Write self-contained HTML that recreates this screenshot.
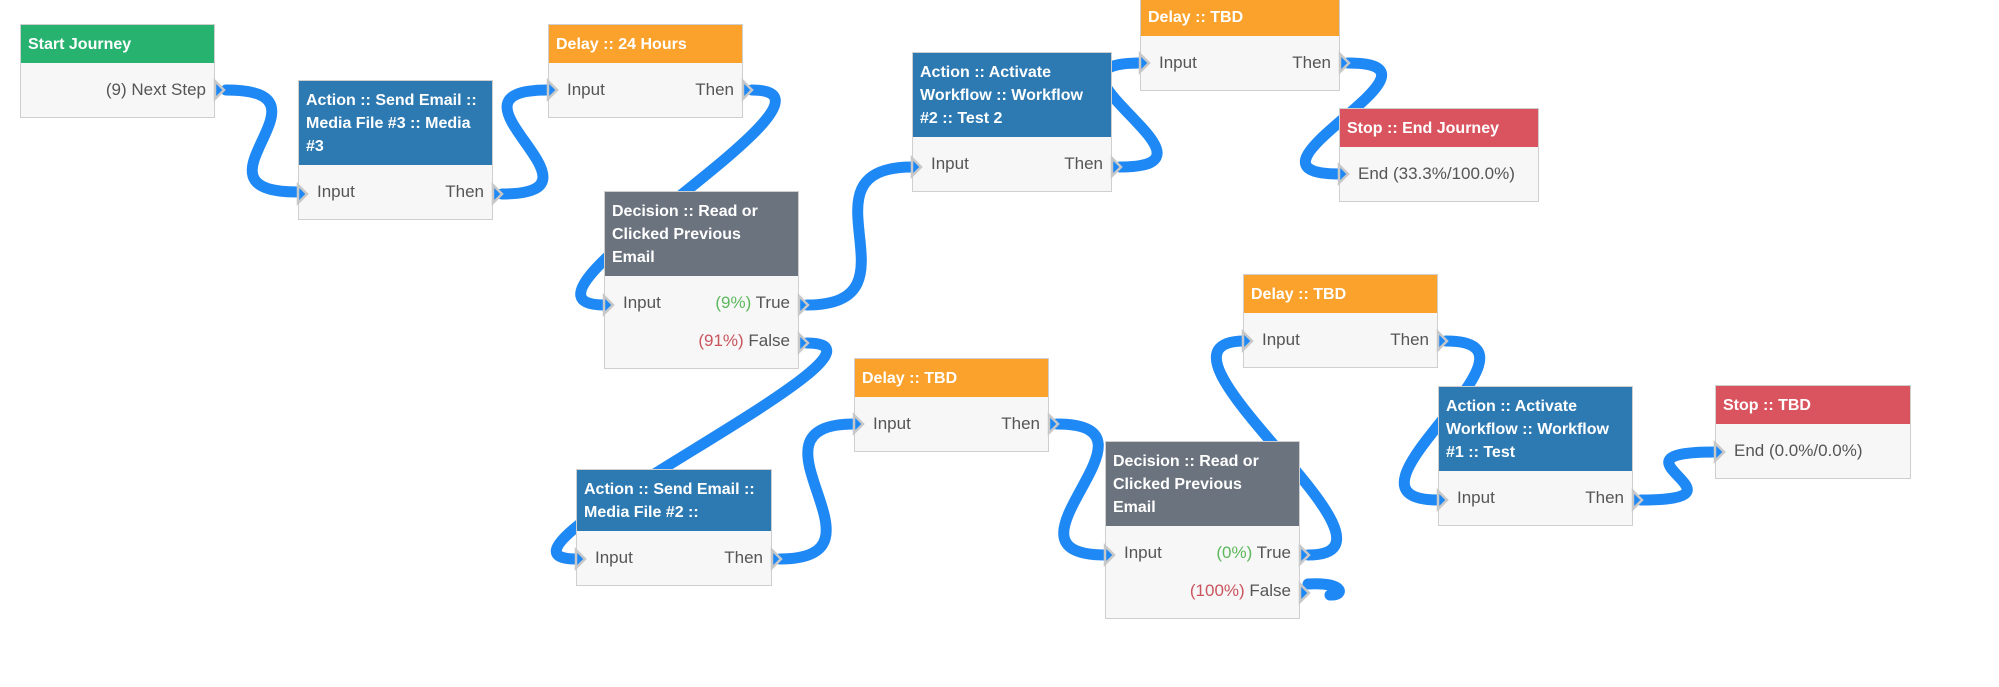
<!DOCTYPE html>
<html><head><meta charset="utf-8"><style>
html,body{margin:0;padding:0;background:#fff;width:1999px;height:687px;overflow:hidden;position:relative;font-family:"Liberation Sans",sans-serif}
.n{position:absolute;width:195px;background:#f7f7f7;border:1px solid #cfcfcf;box-sizing:border-box}
.h{color:#fff;font-weight:bold;font-size:16px;line-height:23px;padding:8px 7px 7px 7px;white-space:nowrap;overflow:hidden}
.b{padding:8px 0}
.r{display:flex;justify-content:space-between;height:38px;line-height:38px;font-size:17px;color:#555;padding:0 8px 0 18px;white-space:nowrap}
.g{background:#27b36f}.o{background:#fba22d}.bl{background:#2d7ab3}.gr{background:#6b737e}.rd{background:#d9545e}
.t{color:#5cb85c}.f{color:#c9545e}
svg{position:absolute;left:0;top:0}
</style></head><body>
<svg width="1999" height="687" style="z-index:0">
<g fill="none" stroke="#1e88f5" stroke-width="11" stroke-linecap="round">
<path d="M226,90 C346,90 178,192 298,192"/>
<path d="M502,194 C622,194 428,90 548,90"/>
<path d="M752,90 C872,90 484,305 604,305"/>
<path d="M807,305 C927,305 792,167 912,167"/>
<path d="M807,343 C927,343 456,559 576,559"/>
<path d="M1120,167 C1240,167 1020,63 1140,63"/>
<path d="M1348,63 C1468,63 1219,174 1339,174"/>
<path d="M780,559 C900,559 734,424 854,424"/>
<path d="M1057,424 C1177,424 985,555 1105,555"/>
<path d="M1308,555 C1428,555 1125,341 1245,341"/>
<path d="M1446,341 C1566,341 1318,500 1438,500"/>
<path d="M1641,500 C1761,500 1595,452 1715,452"/>
<path d="M1308,584 C1345,582 1345,596 1330,595"/>
</g>
</svg>

<div class="n" style="left:20px;top:24px"><div class="h g">Start Journey</div><div class="b"><div class="r"><span></span><span>(9) Next Step</span></div></div></div>

<div class="n" style="left:298px;top:80px"><div class="h bl">Action :: Send Email ::<br>Media File #3 :: Media<br>#3</div><div class="b"><div class="r"><span>Input</span><span>Then</span></div></div></div>

<div class="n" style="left:548px;top:24px"><div class="h o">Delay :: 24 Hours</div><div class="b"><div class="r"><span>Input</span><span>Then</span></div></div></div>

<div class="n" style="left:604px;top:191px"><div class="h gr">Decision :: Read or<br>Clicked Previous<br>Email</div><div class="b"><div class="r"><span>Input</span><span><span class="t">(9%)</span> True</span></div><div class="r"><span></span><span><span class="f">(91%)</span> False</span></div></div></div>

<div class="n" style="left:912px;top:52px;width:200px"><div class="h bl">Action :: Activate<br>Workflow :: Workflow<br>#2 :: Test 2</div><div class="b"><div class="r"><span>Input</span><span>Then</span></div></div></div>

<div class="n" style="left:1140px;top:-3px;width:200px"><div class="h o">Delay :: TBD</div><div class="b"><div class="r"><span>Input</span><span>Then</span></div></div></div>

<div class="n" style="left:1339px;top:108px;width:200px"><div class="h rd">Stop :: End Journey</div><div class="b"><div class="r"><span>End (33.3%/100.0%)</span><span></span></div></div></div>

<div class="n" style="left:576px;top:469px;width:196px"><div class="h bl">Action :: Send Email ::<br>Media File #2 ::</div><div class="b"><div class="r"><span>Input</span><span>Then</span></div></div></div>

<div class="n" style="left:854px;top:358px"><div class="h o">Delay :: TBD</div><div class="b"><div class="r"><span>Input</span><span>Then</span></div></div></div>

<div class="n" style="left:1105px;top:441px"><div class="h gr">Decision :: Read or<br>Clicked Previous<br>Email</div><div class="b"><div class="r"><span>Input</span><span><span class="t">(0%)</span> True</span></div><div class="r"><span></span><span><span class="f">(100%)</span> False</span></div></div></div>

<div class="n" style="left:1243px;top:274px"><div class="h o">Delay :: TBD</div><div class="b"><div class="r"><span>Input</span><span>Then</span></div></div></div>

<div class="n" style="left:1438px;top:386px"><div class="h bl">Action :: Activate<br>Workflow :: Workflow<br>#1 :: Test</div><div class="b"><div class="r"><span>Input</span><span>Then</span></div></div></div>

<div class="n" style="left:1715px;top:385px;width:196px"><div class="h rd">Stop :: TBD</div><div class="b"><div class="r"><span>End (0.0%/0.0%)</span><span></span></div></div></div>

<svg width="1999" height="687" style="z-index:5">
<g fill="#1e88f5" stroke="#c8c8c8" stroke-width="2.5">
<path d="M215,81 l9,9 l-9,9 z"/>
<path d="M298,185 l9,9 l-9,9 z"/>
<path d="M493,185 l9,9 l-9,9 z"/>
<path d="M548,81 l9,9 l-9,9 z"/>
<path d="M743,81 l9,9 l-9,9 z"/>
<path d="M604,296 l9,9 l-9,9 z"/>
<path d="M799,296 l9,9 l-9,9 z"/>
<path d="M799,334 l9,9 l-9,9 z"/>
<path d="M912,158 l9,9 l-9,9 z"/>
<path d="M1112,158 l9,9 l-9,9 z"/>
<path d="M1140,54 l9,9 l-9,9 z"/>
<path d="M1340,54 l9,9 l-9,9 z"/>
<path d="M1339,165 l9,9 l-9,9 z"/>
<path d="M576,550 l9,9 l-9,9 z"/>
<path d="M772,550 l9,9 l-9,9 z"/>
<path d="M854,415 l9,9 l-9,9 z"/>
<path d="M1049,415 l9,9 l-9,9 z"/>
<path d="M1105,546 l9,9 l-9,9 z"/>
<path d="M1300,546 l9,9 l-9,9 z"/>
<path d="M1300,584 l9,9 l-9,9 z"/>
<path d="M1243,332 l9,9 l-9,9 z"/>
<path d="M1438,332 l9,9 l-9,9 z"/>
<path d="M1438,491 l9,9 l-9,9 z"/>
<path d="M1633,491 l9,9 l-9,9 z"/>
<path d="M1715,443 l9,9 l-9,9 z"/>
</g>
</svg>
</body></html>
